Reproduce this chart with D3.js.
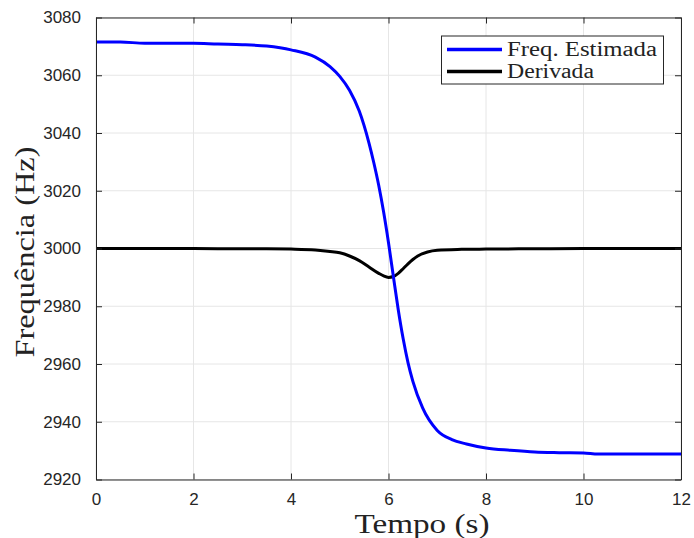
<!DOCTYPE html>
<html>
<head>
<meta charset="utf-8">
<script src="https://cdn.jsdelivr.net/npm/d3@7"></script>
<style>
  body { margin: 0; background: #fff; }
  svg { display: block; }
</style>
</head>
<body>
<svg></svg>
<script>
// tick values
var xTicks = [0, 2, 4, 6, 8, 10, 12];
var yTicks = [2920, 2940, 2960, 2980, 3000, 3020, 3040, 3060, 3080];

// estimated frequency (blue)
var freqT = [0, 0.5, 1, 1.5, 2, 2.5, 3, 3.5, 4, 4.5, 4.8, 5, 5.2, 5.4, 5.6, 5.7, 5.8, 5.9, 6, 6.1, 6.2, 6.3, 6.4, 6.5, 6.7, 7, 7.3, 7.6, 8, 8.5, 9, 9.5, 10, 10.3, 10.5, 11, 12];
var freqV = [3071.5, 3071.5, 3071.1, 3071.1, 3071.1, 3070.8, 3070.6, 3070.1, 3068.8, 3066.3, 3063, 3059.6, 3054.8, 3047.6, 3036.5, 3029.6, 3021.8, 3012.6, 3002, 2990.3, 2978.8, 2968.8, 2960.5, 2954, 2944.8, 2937, 2933.8, 2932.3, 2930.9, 2930.1, 2929.5, 2929.3, 2929.2, 2928.8, 2928.8, 2928.8, 2928.8];

// derivative (black)
var derT = [0, 1, 2, 3, 3.5, 4, 4.5, 4.8, 5, 5.2, 5.4, 5.6, 5.8, 5.9, 6.0, 6.1, 6.2, 6.3, 6.4, 6.5, 6.6, 6.8, 7, 7.5, 8, 9, 10, 11, 12];
var derV = [3000, 3000, 3000, 2999.9, 2999.9, 2999.8, 2999.5, 2999, 2998.5, 2997.4, 2995.8, 2993.6, 2991.4, 2990.5, 2990.0, 2990.3, 2991.4, 2993, 2994.7, 2996.2, 2997.4, 2998.8, 2999.4, 2999.7, 2999.8, 2999.9, 3000, 3000, 3000];

var seriesNames = ["Freq. Estimada", "Derivada"];
var seriesColors = ["#0000ff", "#000000"];

var svgWidth = 694, svgHeight = 538;
var plotLeft = 96, plotRight = 681, plotTop = 17.5, plotBottom = 479.5;
var axisColor = "#262626";
var serif = "'Liberation Serif', 'Times New Roman', serif";

var svg = d3.select("svg")
    .attr("width", svgWidth)
    .attr("height", svgHeight);

var x = d3.scaleLinear().domain([0, 12]).range([plotLeft, plotRight]);
var y = d3.scaleLinear().domain([2920, 3080]).range([plotBottom, plotTop]);

// grid
var grid = svg.append("g");
grid.selectAll(".gx").data(xTicks).enter().append("line")
    .attr("x1", function(d) { return x(d); })
    .attr("x2", function(d) { return x(d); })
    .attr("y1", plotTop).attr("y2", plotBottom)
    .attr("stroke", "#e6e6e6").attr("stroke-width", 1);
grid.selectAll(".gy").data(yTicks).enter().append("line")
    .attr("y1", function(d) { return y(d); })
    .attr("y2", function(d) { return y(d); })
    .attr("x1", plotLeft).attr("x2", plotRight)
    .attr("stroke", "#e6e6e6").attr("stroke-width", 1);

// lines
var lineGen = d3.line()
    .x(function(d) { return x(d[0]); })
    .y(function(d) { return y(d[1]); })
    .curve(d3.curveMonotoneX);

var derData = derT.map(function(t, i) { return [t, derV[i]]; });
var freqData = freqT.map(function(t, i) { return [t, freqV[i]]; });

svg.append("path")
    .datum(derData)
    .attr("fill", "none")
    .attr("stroke", seriesColors[1])
    .attr("stroke-width", 3)
    .attr("stroke-linejoin", "round")
    .attr("d", lineGen);

svg.append("path")
    .datum(freqData)
    .attr("fill", "none")
    .attr("stroke", seriesColors[0])
    .attr("stroke-width", 3)
    .attr("stroke-linejoin", "round")
    .attr("d", lineGen);

// axes (ticks inside, box on all four sides)
function styleAxis(g) {
    g.select(".domain").attr("stroke", axisColor);
    g.selectAll(".tick line").attr("stroke", axisColor);
    g.selectAll(".tick text")
        .attr("fill", axisColor)
        .style("font-family", "'Liberation Sans', Arial, sans-serif")
        .style("font-size", "17px");
}

var fmt = d3.format("d");

svg.append("g")
    .attr("transform", "translate(0," + plotBottom + ")")
    .call(d3.axisBottom(x).tickValues(xTicks).tickFormat(fmt).tickSizeInner(-6).tickSizeOuter(0).tickPadding(13))
    .call(styleAxis);

svg.append("g")
    .attr("transform", "translate(0," + plotTop + ")")
    .call(d3.axisTop(x).tickValues(xTicks).tickSizeInner(-6).tickSizeOuter(0).tickFormat(""))
    .call(styleAxis);

svg.append("g")
    .attr("transform", "translate(" + plotLeft + ",0)")
    .call(d3.axisLeft(y).tickValues(yTicks).tickFormat(fmt).tickSizeInner(-6).tickSizeOuter(0).tickPadding(15))
    .call(styleAxis);

svg.append("g")
    .attr("transform", "translate(" + plotRight + ",0)")
    .call(d3.axisRight(y).tickValues(yTicks).tickSizeInner(-6).tickSizeOuter(0).tickFormat(""))
    .call(styleAxis);

// axis labels
svg.append("text")
    .attr("x", 422)
    .attr("y", 533)
    .attr("text-anchor", "middle")
    .attr("fill", "#222")
    .attr("textLength", 135)
    .attr("lengthAdjust", "spacingAndGlyphs")
    .style("font-family", serif)
    .style("font-size", "28px")
    .text("Tempo (s)");

svg.append("text")
    .attr("transform", "translate(34,252) rotate(-90)")
    .attr("text-anchor", "middle")
    .attr("fill", "#222")
    .attr("textLength", 211)
    .attr("lengthAdjust", "spacingAndGlyphs")
    .style("font-family", serif)
    .style("font-size", "28px")
    .text("Frequência (Hz)");

// legend
var legend = svg.append("g");
legend.append("rect")
    .attr("x", 441.5).attr("y", 36)
    .attr("width", 222).attr("height", 48)
    .attr("fill", "#fff")
    .attr("stroke", axisColor)
    .attr("stroke-width", 1);

var legendY = [49.5, 71.5];
var legendTextWidth = [150, 87];
seriesNames.forEach(function(name, i) {
    legend.append("line")
        .attr("x1", 447).attr("x2", 502)
        .attr("y1", legendY[i]).attr("y2", legendY[i])
        .attr("stroke", seriesColors[i])
        .attr("stroke-width", 3.5);
    legend.append("text")
        .attr("x", 507)
        .attr("y", legendY[i] + 6.5)
        .attr("fill", "#222")
        .attr("textLength", legendTextWidth[i])
        .attr("lengthAdjust", "spacingAndGlyphs")
        .style("font-family", serif)
        .style("font-size", "20px")
        .text(name);
});
</script>
</body>
</html>
